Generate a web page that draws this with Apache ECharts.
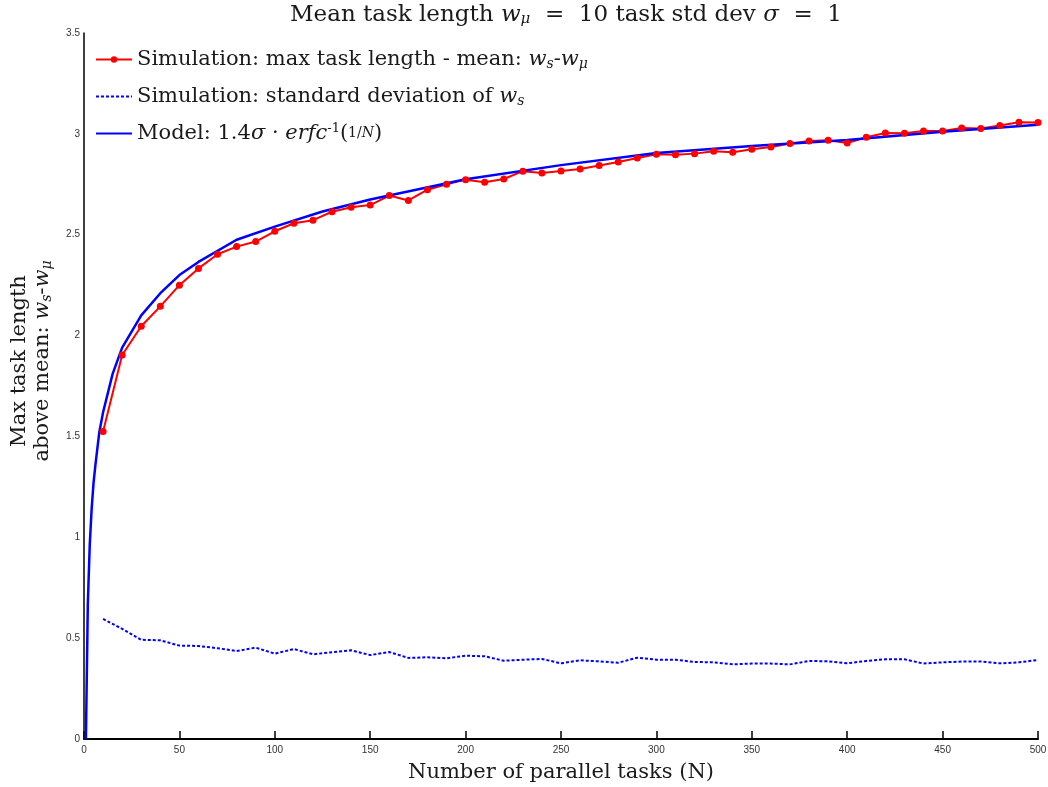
<!DOCTYPE html>
<html lang="en">
<head>
    <meta charset="utf-8">
    <title>Max task length above mean</title>
    <script src="https://cdn.jsdelivr.net/npm/echarts@6.0.0/dist/echarts.min.js"></script>
    <style>
        html, body, #chart {
            width: 100%;
            height: 100%;
            margin: 0;
            padding: 0;
            overflow: hidden;
            background-color: #ffffff;
        }
    </style>
</head>
<body>
    <div id="chart"></div>
    <script>
        // number of parallel tasks for the simulation runs
        var simN = [10, 20, 30, 40, 50, 60, 70, 80, 90, 100,
            110, 120, 130, 140, 150, 160, 170, 180, 190, 200,
            210, 220, 230, 240, 250, 260, 270, 280, 290, 300,
            310, 320, 330, 340, 350, 360, 370, 380, 390, 400,
            410, 420, 430, 440, 450, 460, 470, 480, 490, 500];

        // simulation: max task length - mean
        var simMax = [1.525, 1.904, 2.046, 2.145, 2.25, 2.333, 2.403, 2.441, 2.466, 2.517,
            2.557, 2.572, 2.614, 2.636, 2.647, 2.694, 2.67, 2.723, 2.75, 2.773,
            2.76, 2.776, 2.815, 2.806, 2.816, 2.826, 2.843, 2.861, 2.88, 2.899,
            2.896, 2.902, 2.914, 2.909, 2.924, 2.935, 2.952, 2.965, 2.968, 2.955,
            2.983, 3.004, 3.003, 3.014, 3.014, 3.029, 3.026, 3.041, 3.057, 3.056];

        // simulation: standard deviation of w_s
        var simStd = [0.595, 0.546, 0.492, 0.489, 0.463, 0.461, 0.45, 0.436, 0.453, 0.423,
            0.446, 0.42, 0.43, 0.44, 0.416, 0.431, 0.402, 0.405, 0.4, 0.413,
            0.41, 0.388, 0.393, 0.397, 0.375, 0.39, 0.385, 0.378, 0.403, 0.393,
            0.393, 0.382, 0.38, 0.37, 0.374, 0.374, 0.37, 0.387, 0.385, 0.375,
            0.387, 0.395, 0.395, 0.374, 0.38, 0.384, 0.384, 0.375, 0.38, 0.392];

        // model curve
        var modelN = [1, 2, 3, 4, 5, 6, 8, 10, 15, 20, 30, 40, 50, 60, 80,
            100, 125, 150, 200, 250, 300, 350, 400, 450, 500];
        var modelVal = [0, 0.67, 0.96, 1.14, 1.27, 1.36, 1.52, 1.62, 1.81, 1.94, 2.1, 2.21, 2.3, 2.365, 2.475,
            2.54, 2.615, 2.675, 2.775, 2.845, 2.905, 2.94, 2.97, 3.01, 3.045];

        var xTicks = [0, 50, 100, 150, 200, 250, 300, 350, 400, 450, 500];
        var yTicks = [0, 0.5, 1, 1.5, 2, 2.5, 3, 3.5];

        function pairs(xs, ys) {
            var out = [];
            for (var i = 0; i < xs.length; i++) {
                out.push([xs[i], ys[i]]);
            }
            return out;
        }

        var serif = 'DejaVu Serif';
        var ink = '#1a1a1a';
        var mathRich = {
            i: { fontFamily: serif, fontStyle: 'italic', fontSize: 21, color: ink },
            sub: { fontFamily: serif, fontStyle: 'italic', fontSize: 14, color: ink, padding: [9, 0, 0, 0] },
            sup: { fontFamily: serif, fontSize: 13, color: ink, padding: [0, 0, 9, 0] },
            fr: { fontFamily: serif, fontSize: 14, color: ink },
            fri: { fontFamily: serif, fontStyle: 'italic', fontSize: 14, color: ink }
        };

        var legendText = {
            simMax: 'Simulation: max task length - mean: {i|w}{sub|s}-{i|w}{sub|μ}',
            simStd: 'Simulation: standard deviation of {i|w}{sub|s}',
            model: 'Model: 1.4{i|σ} · {i|erfc}{sup|-1}({fr|1/}{fri|N})'
        };

        var chart = echarts.init(document.getElementById('chart'));

        var option = {
            animation: false,
            backgroundColor: '#ffffff',
            title: {
                text: 'Mean task length {i|w}{sub|μ}  =  10 task std dev {i|σ}  =  1',
                left: 561,
                textAlign: 'center',
                top: -2,
                textStyle: {
                    fontFamily: serif,
                    fontSize: 23,
                    fontWeight: 'normal',
                    color: ink,
                    rich: {
                        i: { fontFamily: serif, fontStyle: 'italic', fontSize: 23, color: ink },
                        sub: { fontFamily: serif, fontStyle: 'italic', fontSize: 15, color: ink, padding: [9, 0, 0, 0] }
                    }
                }
            },
            legend: {
                data: [
                    { name: 'simMax' },
                    { name: 'simStd', itemStyle: { opacity: 0 } },
                    { name: 'model', itemStyle: { opacity: 0 } }
                ],
                orient: 'vertical',
                left: 90,
                top: 42,
                itemWidth: 36,
                itemHeight: 8,
                itemGap: 12,
                formatter: function (name) {
                    return legendText[name];
                },
                textStyle: {
                    fontFamily: serif,
                    fontSize: 21,
                    color: ink,
                    lineHeight: 25,
                    rich: mathRich
                }
            },
            grid: {
                left: 84,
                right: 10,
                top: 33,
                bottom: 48,
                outerBoundsMode: 'none',
                containLabel: false
            },
            xAxis: {
                type: 'value',
                min: 0,
                max: 500,
                interval: 50,
                name: 'Number of parallel tasks (N)',
                nameLocation: 'middle',
                nameGap: 23,
                nameTextStyle: {
                    fontFamily: serif,
                    fontSize: 21,
                    color: ink
                },
                axisLine: { lineStyle: { color: '#000', width: 2 } },
                axisTick: { inside: true, length: 8, lineStyle: { color: '#000', width: 1.5 } },
                axisLabel: {
                    fontFamily: 'Liberation Sans',
                    fontSize: 10,
                    color: '#333',
                    margin: 6,
                    formatter: function (v) {
                        return xTicks.indexOf(v) >= 0 ? String(v) : '';
                    }
                },
                splitLine: { show: false }
            },
            yAxis: {
                type: 'value',
                min: 0,
                max: 3.5,
                interval: 0.5,
                name: 'Max task length\nabove mean: {i|w}{sub|s}-{i|w}{sub|μ}',
                nameLocation: 'middle',
                nameRotate: 90,
                nameGap: 30,
                nameTextStyle: {
                    fontFamily: serif,
                    fontSize: 21,
                    color: ink,
                    lineHeight: 23,
                    padding: [0, 0, 0, 50],
                    rich: mathRich
                },
                axisLine: { show: true, lineStyle: { color: '#000', width: 1.5 } },
                axisTick: { show: false },
                axisLabel: {
                    fontFamily: 'Liberation Sans',
                    fontSize: 10,
                    color: '#333',
                    margin: 4,
                    formatter: function (v) {
                        return yTicks.indexOf(v) >= 0 ? String(v) : '';
                    }
                },
                splitLine: { show: false }
            },
            series: [
                {
                    name: 'simMax',
                    type: 'line',
                    data: pairs(simN, simMax),
                    symbol: 'circle',
                    symbolSize: 7,
                    itemStyle: { color: '#ff0000' },
                    lineStyle: { color: '#ff0000', width: 2 }
                },
                {
                    name: 'simStd',
                    type: 'line',
                    data: pairs(simN, simStd),
                    showSymbol: false,
                    symbol: 'none',
                    itemStyle: { color: '#0000ff' },
                    lineStyle: { color: '#0000ff', width: 2, type: [3, 2] }
                },
                {
                    name: 'model',
                    type: 'line',
                    data: pairs(modelN, modelVal),
                    showSymbol: false,
                    symbol: 'none',
                    itemStyle: { color: '#0000ff' },
                    lineStyle: { color: '#0000ff', width: 2.5 }
                }
            ]
        };

        chart.setOption(option);
    </script>
</body>
</html>
